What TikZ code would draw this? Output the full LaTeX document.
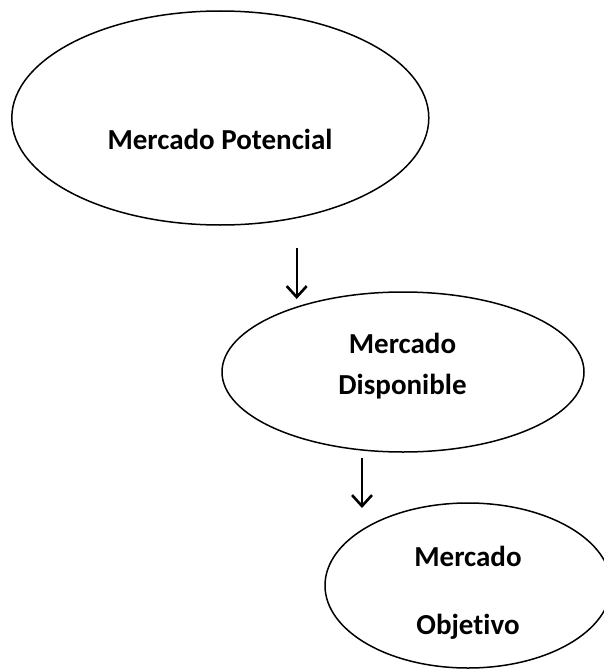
\documentclass[tikz,border=0pt]{standalone}
\usepackage{fontspec}
\setmainfont{Carlito}[Ligatures=CommonOff]
\usetikzlibrary{shapes.geometric,arrows.meta}
\tikzset{
  oval/.style={draw=black, line width=1.5pt, ellipse, inner sep=0pt},
  lbl/.style={anchor=base, inner sep=0pt, font=\bfseries\fontsize{29}{35}\selectfont},
  flowarrow/.style={line width=2.4pt, -{Straight Barb[length=11pt,width=20pt,line width=2.6pt]}}
}
\begin{document}
\begin{tikzpicture}[x=1pt,y=-1pt]
\useasboundingbox (0,0) rectangle (604,669);
\clip (0,0) rectangle (604,669);
\node[oval, minimum width=417pt, minimum height=214pt] (pot) at (220.3,118) {};
\node[oval, minimum width=362pt, minimum height=160pt] (dis) at (403,372) {};
\node[oval, minimum width=286pt, minimum height=165pt] (obj) at (468,585.5) {};
\node[lbl] (tpot) at (220,149) {Mercado Potencial};
\node[lbl] (tdis1) at (402.5,353) {Mercado};
\node[lbl] (tdis2) at (402.5,394) {Disponible};
\node[lbl] (tobj1) at (468,566) {Mercado};
\node[lbl] (tobj2) at (468,634) {Objetivo};
\coordinate (a1s) at (296.7,248);
\coordinate (a1e) at (296.7,299);
\coordinate (a2s) at (362,458);
\coordinate (a2e) at (362,508);
\draw[flowarrow] (a1s) -- (a1e);
\draw[flowarrow] (a2s) -- (a2e);
\end{tikzpicture}
\end{document}
